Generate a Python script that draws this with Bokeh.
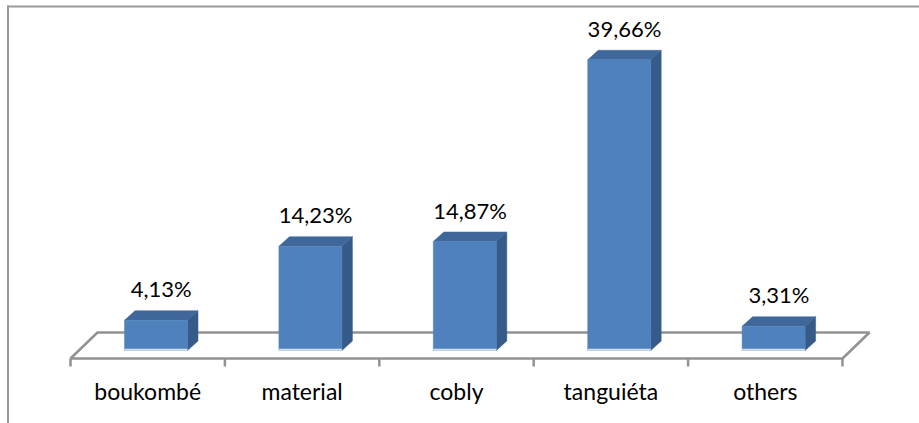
from bokeh.plotting import figure
from bokeh.models import Range1d, ColumnDataSource
from bokeh.embed import file_html
from bokeh.resources import INLINE
from bokeh.core.properties import value

# ---- data ----
categories = ["boukombé", "material", "cobly", "tanguiéta", "others"]
values = [4.13, 14.23, 14.87, 39.66, 3.31]
value_labels = ["4,13%", "14,23%", "14,87%", "39,66%", "3,31%"]

# ---- layout constants (pixel geometry of the 3D look) ----
W, H = 919, 423
X0_PX, CW_PX = 70.0, 154.4      # front-left floor corner, category width
Y0_PX, VS_PX = 350.0, 7.33      # baseline of bar fronts, px per percent

def px_x(px):
    return (px - X0_PX) / CW_PX

def px_y(py):
    return (Y0_PX - py) / VS_PX

BAR_OFF = 54 / CW_PX        # offset of front face within category
BAR_W = 63 / CW_PX          # front face width
DX = 10.5 / CW_PX           # depth offset x
DY = 9.5 / VS_PX            # depth offset y

p = figure(width=W, height=H, output_backend="svg", toolbar_location=None,
           x_range=Range1d(px_x(0), px_x(W)), y_range=Range1d(px_y(H), px_y(0)),
           min_border=0, min_border_left=0, min_border_right=0,
           min_border_top=0, min_border_bottom=0)
p.axis.visible = False
p.grid.visible = False
p.outline_line_color = None
p.background_fill_color = "white"
p.border_fill_color = "white"

n = len(categories)
grey = "#929292"

# ---- floor ----
f_front = px_y(358)
f_back = px_y(332)
f_dx = 27 / CW_PX
p.patch([0, n, n + f_dx, f_dx], [f_front, f_front, f_back, f_back],
        fill_color="white", line_color=grey, line_width=2.5)
# tick marks along the front edge at category boundaries
tick_bottom = px_y(366)
p.segment(x0=list(range(n + 1)), y0=[f_front] * (n + 1),
          x1=list(range(n + 1)), y1=[tick_bottom] * (n + 1),
          line_color=grey, line_width=2.5)

# ---- bars ----
front_xs, front_ys, top_xs, top_ys, side_xs, side_ys = [], [], [], [], [], []
for i, v in enumerate(values):
    l = i + BAR_OFF
    r = l + BAR_W
    front_xs.append([l, r, r, l])
    front_ys.append([0, 0, v, v])
    top_xs.append([l, r, r + DX, l + DX])
    top_ys.append([v, v, v + DY, v + DY])
    side_xs.append([r, r + DX, r + DX, r])
    side_ys.append([0, DY, v + DY, v])

p.patches(side_xs, side_ys, fill_color="#365B88", line_color="#365B88", line_width=0.5)
p.patches(top_xs, top_ys, fill_color="#3F6799", line_color="#3F6799", line_width=0.5)
p.patches(front_xs, front_ys, fill_color="#4F81BD", line_color="#4F81BD", line_width=0.5)
# light reflection line at the bottom of each bar front
p.segment(x0=[i + BAR_OFF for i in range(n)], y0=[0.1] * n,
          x1=[i + BAR_OFF + BAR_W for i in range(n)], y1=[0.1] * n,
          line_color="#D5E0EE", line_width=2)

# ---- value labels ----
lab_src = ColumnDataSource(dict(
    x=[i + BAR_OFF + (BAR_W + DX) / 2 for i in range(n)],
    y=[v + DY + 22 / VS_PX for v in values],
    t=value_labels))
p.text(x="x", y="y", text="t", source=lab_src, text_align="center",
       text_baseline="alphabetic", text_font=value("Lato"),
       text_font_size="22px", text_color="#000000")

# ---- category labels ----
cat_src = ColumnDataSource(dict(
    x=[i + 0.5 for i in range(n)],
    y=[px_y(390)] * n,
    t=categories))
p.text(x="x", y="y", text="t", source=cat_src, text_align="center",
       text_baseline="alphabetic", text_font=value("Lato"),
       text_font_size="23px", text_color="#000000")

# ---- chart border (top and left visible) ----
p.segment(x0=[px_x(7), px_x(7.5)], y0=[px_y(6), px_y(5)],
          x1=[px_x(W), px_x(7.5)], y1=[px_y(6), px_y(H)],
          line_color="#9A9A9A", line_width=2)

open("out.html", "w").write(file_html(p, INLINE))
